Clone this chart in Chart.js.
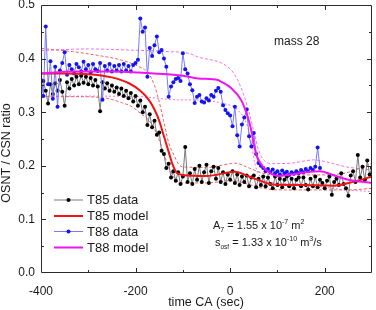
<!DOCTYPE html>
<html>
<head>
<meta charset="utf-8">
<title>OSNT / CSN ratio - mass 28</title>
<script src="https://cdn.jsdelivr.net/npm/chart.js@4.4.0/dist/chart.umd.min.js"></script>
<style>
    html, body { margin: 0; padding: 0; background: #fff; }
    canvas { display: block; }
</style>
</head>
<body>
<canvas id="ratio-chart" width="376" height="310"></canvas>
<script>
// measured data, one sample every 5 s
const t85Start = -400;
const t85Step = 5;
const t85Ratio = [
    0.330, 0.358, 0.340, 0.316, 0.352, 0.334, 0.354, 0.340, 0.360, 0.338,
    0.312, 0.356, 0.344, 0.362, 0.350, 0.366, 0.352, 0.368, 0.355, 0.366,
    0.352, 0.364, 0.350, 0.360, 0.348, 0.302, 0.356, 0.344, 0.354, 0.340,
    0.350, 0.338, 0.346, 0.334, 0.344, 0.330, 0.340, 0.326, 0.336, 0.320,
    0.330, 0.312, 0.322, 0.300, 0.310, 0.276, 0.296, 0.272, 0.284, 0.258,
    0.262, 0.228, 0.222, 0.196, 0.204, 0.178, 0.190, 0.172, 0.188, 0.166,
    0.180, 0.235, 0.170, 0.186, 0.166, 0.194, 0.174, 0.200, 0.170, 0.188,
    0.202, 0.168, 0.190, 0.198, 0.176, 0.196, 0.170, 0.188, 0.166, 0.184,
    0.174, 0.190, 0.168, 0.184, 0.164, 0.180, 0.170, 0.182, 0.162, 0.178,
    0.182, 0.160, 0.176, 0.164, 0.180, 0.162, 0.178, 0.166, 0.158, 0.180,
    0.164, 0.176, 0.160, 0.174, 0.180, 0.162, 0.176, 0.158, 0.174, 0.178,
    0.162, 0.178, 0.164, 0.156, 0.176, 0.162, 0.180, 0.160, 0.174, 0.168,
    0.158, 0.172, 0.180, 0.146, 0.170, 0.176, 0.164, 0.186, 0.166, 0.158,
    0.144, 0.182, 0.190, 0.170, 0.220, 0.178, 0.198, 0.174, 0.210, 0.184,
    0.196
];

const t88Start = -400;
const t88Step = 5;
const t88Ratio = [
    0.360, 0.330, 0.460, 0.352, 0.395, 0.325, 0.385, 0.310, 0.378, 0.392,
    0.412, 0.370, 0.388, 0.380, 0.372, 0.390, 0.384, 0.376, 0.394, 0.380,
    0.388, 0.374, 0.390, 0.380, 0.377, 0.392, 0.323, 0.386, 0.378, 0.390,
    0.376, 0.386, 0.378, 0.388, 0.376, 0.390, 0.378, 0.386, 0.376, 0.388,
    0.392, 0.398, 0.475, 0.450, 0.458, 0.366, 0.420, 0.405, 0.425, 0.441,
    0.412, 0.416, 0.400, 0.385, 0.329, 0.348, 0.356, 0.362, 0.364, 0.358,
    0.410, 0.380, 0.372, 0.352, 0.341, 0.317, 0.329, 0.332, 0.320, 0.318,
    0.326, 0.322, 0.332, 0.329, 0.340, 0.345, 0.338, 0.313, 0.304, 0.298,
    0.294, 0.274, 0.310, 0.257, 0.236, 0.277, 0.290, 0.305, 0.255, 0.236,
    0.261, 0.222, 0.205, 0.200, 0.196, 0.190, 0.194, 0.188, 0.193, 0.186,
    0.190, 0.184, 0.191, 0.186, 0.189, 0.183, 0.188, 0.185, 0.190, 0.186,
    0.192, 0.188, 0.194, 0.190, 0.196, 0.192, 0.198, 0.234, 0.196
];

// model curves and their bounds
const t85ModelTime = [-400, -350, -300, -250, -214, -190, -172, -160, -150, -140, -130, -122, -113, -100, -50, 0, 10, 40, 70, 90, 150, 220, 260, 300];
const t85ModelRatio = [0.372, 0.372, 0.371, 0.365, 0.354, 0.340, 0.323, 0.305, 0.284, 0.255, 0.226, 0.203, 0.187, 0.183, 0.181, 0.188, 0.189, 0.180, 0.170, 0.165, 0.164, 0.163, 0.170, 0.180];

const t85UpperTime = [-400, -333, -280, -229, -193, -172, -160, -151, -141, -130, -120, -109, -100, -50, 0, 10, 40, 70, 100, 200, 250, 300];
const t85UpperRatio = [0.419, 0.413, 0.406, 0.397, 0.385, 0.372, 0.350, 0.323, 0.285, 0.243, 0.222, 0.203, 0.198, 0.197, 0.204, 0.205, 0.196, 0.186, 0.183, 0.183, 0.188, 0.205];

const t85LowerTime = [-400, -330, -262, -230, -207, -190, -172, -160, -150, -140, -130, -120, -110, -100, -50, 0, 10, 40, 70, 100, 200, 250, 300];
const t85LowerRatio = [0.329, 0.329, 0.326, 0.318, 0.310, 0.298, 0.285, 0.268, 0.248, 0.222, 0.198, 0.180, 0.170, 0.168, 0.168, 0.172, 0.172, 0.165, 0.158, 0.155, 0.155, 0.155, 0.158];

const t88ModelTime = [-400, -333, -250, -193, -100, -68, -26, -19, 2, 23, 37, 45, 51, 58, 68, 86, 100, 130, 160, 190, 220, 250, 300];
const t88ModelRatio = [0.372, 0.376, 0.376, 0.374, 0.368, 0.363, 0.360, 0.357, 0.345, 0.323, 0.292, 0.265, 0.236, 0.215, 0.200, 0.186, 0.181, 0.184, 0.188, 0.190, 0.182, 0.174, 0.168];

const t88UpperTime = [-400, -300, -214, -130, -88, -68, -19, 2, 16, 30, 40, 51, 60, 70, 90, 130, 177, 200, 246, 300];
const t88UpperRatio = [0.415, 0.418, 0.416, 0.413, 0.410, 0.403, 0.392, 0.379, 0.360, 0.329, 0.300, 0.261, 0.230, 0.212, 0.204, 0.205, 0.211, 0.208, 0.198, 0.192];

const t88LowerTime = [-400, -300, -193, -109, -88, -19, 16, 37, 45, 52, 60, 75, 100, 150, 200, 246, 300];
const t88LowerRatio = [0.330, 0.330, 0.329, 0.323, 0.323, 0.317, 0.304, 0.273, 0.240, 0.205, 0.185, 0.172, 0.168, 0.166, 0.160, 0.155, 0.152];

const xTickLabels = [-400, -200, 0, 200];
const yTickLabels = [0.0, 0.1, 0.2, 0.3, 0.4, 0.5];

const FONT = '"Liberation Sans", Arial, sans-serif';

function sampled(start, step, values) {
    return values.map((v, i) => ({ x: start + i * step, y: v }));
}

function paired(times, values) {
    return times.map((t, i) => ({ x: t, y: values[i] }));
}

function isLabelY(v) {
    return yTickLabels.some(l => Math.abs(l - v) < 1e-6);
}

function boundLine(data, color, dash) {
    return {
        data,
        borderColor: color,
        borderWidth: 1,
        borderDash: dash,
        pointRadius: 0,
        cubicInterpolationMode: "monotone",
        order: 6,
        inLegend: false
    };
}

// inward ticks on all four sides plus the frame
const frameTicks = {
    id: "frameTicks",
    afterDraw(chart) {
        const { ctx, chartArea: a, scales: { x, y } } = chart;
        ctx.save();
        ctx.strokeStyle = "#2a2a2a";
        ctx.lineWidth = 1;
        ctx.beginPath();
        ctx.rect(a.left + 0.5, a.top + 0.5, a.right - a.left - 1, a.bottom - a.top - 1);
        x.ticks.forEach(t => {
            const px = Math.round(x.getPixelForValue(t.value)) + 0.5;
            if (px <= a.left + 1 || px >= a.right - 1) return;
            const len = xTickLabels.includes(t.value) ? 5 : 3;
            ctx.moveTo(px, a.bottom); ctx.lineTo(px, a.bottom - len);
            ctx.moveTo(px, a.top); ctx.lineTo(px, a.top + len);
        });
        y.ticks.forEach(t => {
            const py = Math.round(y.getPixelForValue(t.value)) + 0.5;
            if (py <= a.top + 1 || py >= a.bottom - 1) return;
            const len = isLabelY(t.value) ? 5 : 3;
            ctx.moveTo(a.left, py); ctx.lineTo(a.left + len, py);
            ctx.moveTo(a.right, py); ctx.lineTo(a.right - len, py);
        });
        ctx.stroke();
        ctx.restore();
    }
};

// write a run of text pieces, some raised or lowered
function drawPieces(ctx, x, baseline, pieces) {
    pieces.forEach(p => {
        const size = p.size || 11;
        ctx.font = size + "px " + FONT;
        ctx.fillText(p.text, x, baseline + (p.shift || 0));
        x += ctx.measureText(p.text).width;
    });
}

const labelsAndLegend = {
    id: "labelsAndLegend",
    afterDraw(chart) {
        const ctx = chart.ctx;
        ctx.save();
        ctx.fillStyle = "#1a1a1a";
        ctx.textBaseline = "middle";

        // axis titles
        ctx.font = "12.5px " + FONT;
        ctx.textAlign = "center";
        ctx.fillText("time CA (sec)", 206, 303);
        ctx.save();
        ctx.translate(7, 153);
        ctx.rotate(-Math.PI / 2);
        ctx.fillText("OSNT / CSN ratio", 0, 0);
        ctx.restore();

        // legend
        ctx.textAlign = "left";
        ctx.font = "13px " + FONT;
        const rows = [200, 216, 231.5, 247.5];
        const items = chart.data.datasets.filter(d => d.inLegend);
        items.forEach((d, i) => {
            const yy = rows[i];
            ctx.strokeStyle = d.borderColor;
            ctx.lineWidth = d.borderWidth;
            ctx.beginPath();
            ctx.moveTo(54, yy); ctx.lineTo(83, yy);
            ctx.stroke();
            if (d.pointRadius > 0) {
                ctx.fillStyle = d.pointBackgroundColor;
                ctx.beginPath();
                ctx.arc(68.5, yy, d.pointRadius, 0, Math.PI * 2);
                ctx.fill();
            }
            ctx.fillStyle = "#1a1a1a";
            ctx.fillText(d.label, 87, yy + 0.5);
        });

        // annotations
        ctx.textBaseline = "alphabetic";
        ctx.font = "12px " + FONT;
        ctx.fillText("mass 28", 274, 45);
        drawPieces(ctx, 213, 229, [
            { text: "A" },
            { text: "7", size: 7, shift: 3 },
            { text: " = 1.55 x 10" },
            { text: "-7", size: 7, shift: -5 },
            { text: " m" },
            { text: "2", size: 7, shift: -5 }
        ]);
        drawPieces(ctx, 215, 246, [
            { text: "s" },
            { text: "osf", size: 6.5, shift: 3 },
            { text: " = 1.33 x 10" },
            { text: "-10", size: 7, shift: -5 },
            { text: " m" },
            { text: "3", size: 7, shift: -5 },
            { text: "/s" }
        ]);
        ctx.restore();
    }
};

const ctx = document.getElementById("ratio-chart").getContext("2d");

const ratioChart = new Chart(ctx, {
    type: "line",
    data: {
        datasets: [
            {
                label: "T85 data",
                data: sampled(t85Start, t85Step, t85Ratio),
                borderColor: "#7a7a7a",
                borderWidth: 1,
                pointRadius: 2,
                pointBackgroundColor: "#000000",
                pointBorderWidth: 0,
                order: 5,
                inLegend: true
            },
            {
                label: "T85 model",
                data: paired(t85ModelTime, t85ModelRatio),
                borderColor: "#ee1515",
                borderWidth: 2,
                pointRadius: 0,
                cubicInterpolationMode: "monotone",
                order: 2,
                inLegend: true
            },
            {
                label: "T88 data",
                data: sampled(t88Start, t88Step, t88Ratio),
                borderColor: "#7878ff",
                borderWidth: 1,
                pointRadius: 2,
                pointBackgroundColor: "#1414f0",
                pointBorderWidth: 0,
                order: 4,
                inLegend: true
            },
            {
                label: "T88 model",
                data: paired(t88ModelTime, t88ModelRatio),
                borderColor: "#f014f0",
                borderWidth: 2,
                pointRadius: 0,
                cubicInterpolationMode: "monotone",
                order: 1,
                inLegend: true
            },
            boundLine(paired(t85UpperTime, t85UpperRatio), "#f06060", [3, 2]),
            boundLine(paired(t85LowerTime, t85LowerRatio), "#f06060", [3, 2]),
            boundLine(paired(t88UpperTime, t88UpperRatio), "#f070f0", [3, 2]),
            boundLine(paired(t88LowerTime, t88LowerRatio), "#f070f0", [2, 2])
        ]
    },
    options: {
        responsive: false,
        animation: false,
        layout: { padding: { top: 5, right: 1, left: 0, bottom: 0 } },
        scales: {
            x: {
                type: "linear",
                min: -400,
                max: 300,
                grid: { display: false, drawTicks: false },
                border: { display: false },
                ticks: {
                    stepSize: 100,
                    autoSkip: false,
                    maxRotation: 0,
                    padding: 11,
                    color: "#1a1a1a",
                    font: { family: FONT, size: 12 },
                    callback: v => xTickLabels.includes(v) ? String(v) : ""
                },
                afterFit(s) {
                    s.height = 37;
                    s.paddingLeft = 0;
                    s.paddingRight = 0;
                }
            },
            y: {
                min: 0,
                max: 0.5,
                grid: { display: false, drawTicks: false },
                border: { display: false },
                ticks: {
                    stepSize: 0.05,
                    autoSkip: false,
                    padding: 6,
                    color: "#1a1a1a",
                    font: { family: FONT, size: 12 },
                    callback: v => isLabelY(v) ? v.toFixed(1) : ""
                },
                afterFit(s) {
                    s.width = 41;
                    s.paddingTop = 0;
                    s.paddingBottom = 0;
                }
            }
        },
        plugins: {
            legend: { display: false },
            tooltip: { enabled: false }
        }
    },
    plugins: [frameTicks, labelsAndLegend]
});
</script>
</body>
</html>
